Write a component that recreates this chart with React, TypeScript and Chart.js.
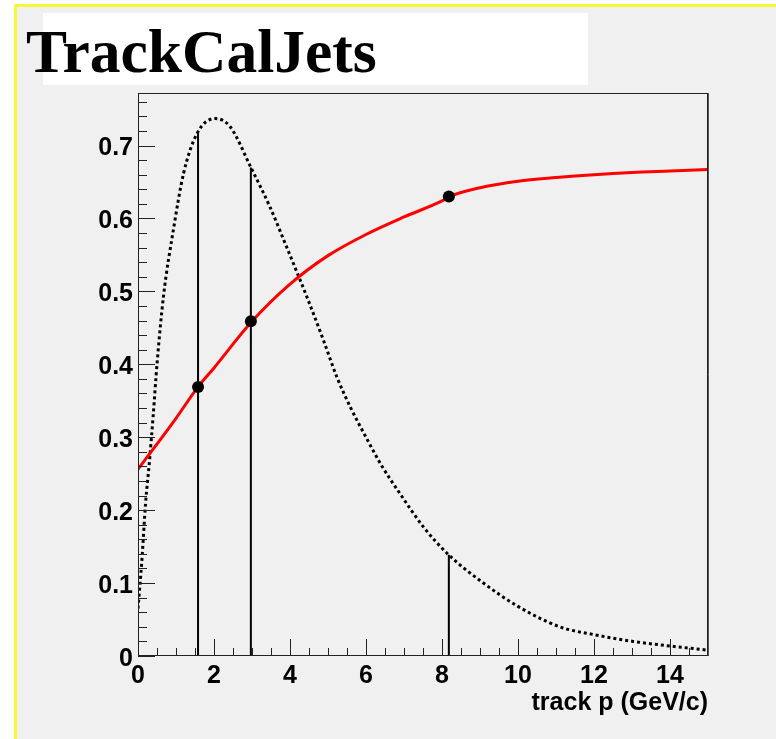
import React, { useEffect, useRef } from 'react';
import { Chart, registerables } from 'chart.js';
Chart.register(...registerables);

const TITLE = 'TrackCalJets';
const X_TITLE = 'track p (GeV/c)';

const xTickValues = [0, 2, 4, 6, 8, 10, 12, 14];
const xTickLabels = ['0', '2', '4', '6', '8', '10', '12', '14'];
const yTickValues = [0, 0.1, 0.2, 0.3, 0.4, 0.5, 0.6, 0.7];
const yTickLabels = ['0', '0.1', '0.2', '0.3', '0.4', '0.5', '0.6', '0.7'];

// red efficiency-like curve
const redX = [0, 1, 1.58, 2, 3, 4, 5, 6, 7, 8, 8.2, 9, 10, 11, 12, 13, 14, 15];
const redY = [0.256, 0.326, 0.369, 0.395, 0.459, 0.51, 0.549, 0.578, 0.602, 0.624, 0.63, 0.642, 0.651, 0.656, 0.66, 0.663, 0.665, 0.667];

// dotted distribution curve
const distX = [0, 0.1, 0.2, 0.3, 0.4, 0.5, 0.67, 0.93, 1.2, 1.56, 2.03, 2.42, 2.97, 3.47, 3.91, 4.44, 4.88, 5.23, 5.6, 6.0, 6.4, 6.89, 7.51, 8.17, 9.09, 10.0, 11.1, 12.03, 13.03, 14.0, 14.83, 15];
const distY = [0.065, 0.13, 0.21, 0.266, 0.33, 0.4, 0.493, 0.584, 0.662, 0.717, 0.737, 0.726, 0.67, 0.616, 0.561, 0.493, 0.433, 0.383, 0.34, 0.3, 0.262, 0.223, 0.177, 0.139, 0.1, 0.068, 0.04, 0.029, 0.02, 0.0137, 0.009, 0.008];

// markers
const markX = [1.58, 2.97, 8.18];
const markTop = [0.717, 0.67, 0.139];
const markY = [0.369, 0.459, 0.63];

const X_MIN = 0, X_MAX = 15, Y_MIN = 0, Y_MAX = 0.772;
const X_MINOR_STEP = 0.5, Y_MINOR_STEP = 0.02;

export default function App() {
  const ref = useRef<HTMLCanvasElement>(null);
  useEffect(() => {
    document.body.style.margin = '0';
    document.body.style.background = '#ffffff';
    const canvas = ref.current!;
    const tickFont = { family: '"Liberation Sans", Arial, sans-serif', size: 25, weight: 'bold' as const };

    const decor = {
      id: 'decor',
      beforeDraw(chart: any) {
        const { ctx, width, height } = chart;
        ctx.save();
        ctx.fillStyle = '#ffffff';
        ctx.fillRect(0, 0, width, height);
        ctx.fillStyle = '#f0f0f0';
        ctx.fillRect(14, 4, width - 14, height - 4);
        ctx.fillStyle = '#f8f838';
        ctx.fillRect(14, 4, width - 14, 3);
        ctx.fillRect(14, 4, 3, height - 4);
        ctx.fillStyle = '#ffffff';
        ctx.fillRect(43, 13, 545, 72);
        ctx.fillStyle = '#000000';
        ctx.font = 'bold 61.5px "Liberation Serif", "Times New Roman", serif';
        ctx.textBaseline = 'alphabetic';
        ctx.textAlign = 'left';
        ctx.fillText(TITLE, 26, 72);
        ctx.restore();
      },
      afterDraw(chart: any) {
        const { ctx, chartArea } = chart;
        const xs = chart.scales.x, ys = chart.scales.y;
        const { left, right, top, bottom } = chartArea;
        ctx.save();
        ctx.strokeStyle = '#222222';
        ctx.lineWidth = 1;
        ctx.beginPath();
        for (let v = X_MIN; v <= X_MAX + 1e-9; v += X_MINOR_STEP) {
          const major = Math.abs(v / 2 - Math.round(v / 2)) < 1e-6;
          const px = Math.round(xs.getPixelForValue(v)) + 0.5;
          ctx.moveTo(px, bottom);
          ctx.lineTo(px, bottom - (major ? 17 : 8));
        }
        for (let v = Y_MIN; v <= Y_MAX + 1e-9; v += Y_MINOR_STEP) {
          const major = Math.abs(v * 10 - Math.round(v * 10)) < 1e-6;
          const py = Math.round(ys.getPixelForValue(v)) + 0.5;
          ctx.moveTo(left, py);
          ctx.lineTo(left + (major ? 17 : 9), py);
        }
        ctx.stroke();
        ctx.strokeStyle = '#222222';
        ctx.lineWidth = 1;
        ctx.strokeRect(left + 0.5, top + 0.5, right - left - 1, bottom - top - 1);
        ctx.strokeStyle = '#555555';
        ctx.beginPath();
        ctx.moveTo(right + 0.5, top);
        ctx.lineTo(right + 0.5, bottom);
        ctx.stroke();
        ctx.restore();
      },
    };

    const vlineData: any[] = [];
    markX.forEach((x, i) => {
      vlineData.push({ x, y: 0 }, { x, y: markTop[i] }, { x, y: null });
    });

    const chart = new Chart(canvas, {
      type: 'line',
      data: {
        datasets: [
          {
            label: 'dist',
            data: distX.map((x, i) => ({ x, y: distY[i] })),
            borderColor: '#000000',
            borderWidth: 3,
            borderDash: [3, 3],
            pointRadius: 0,
            cubicInterpolationMode: 'monotone',
            fill: false,
            order: 4,
          },
          {
            label: 'vlines',
            data: vlineData,
            borderColor: '#000000',
            borderWidth: 2,
            pointRadius: 0,
            spanGaps: false,
            fill: false,
            order: 3,
          },
          {
            label: 'eff',
            data: redX.map((x, i) => ({ x, y: redY[i] })),
            borderColor: '#ff0000',
            borderWidth: 3,
            pointRadius: 0,
            cubicInterpolationMode: 'monotone',
            fill: false,
            order: 2,
          },
          {
            label: 'marks',
            data: markX.map((x, i) => ({ x, y: markY[i] })),
            showLine: false,
            pointRadius: 6,
            pointBackgroundColor: '#000000',
            pointBorderColor: '#000000',
            pointBorderWidth: 0,
            order: 1,
          },
        ] as any,
      },
      options: {
        animation: false,
        responsive: false,
        maintainAspectRatio: false,
        events: [],
        layout: { padding: { left: 0, top: 93, right: 68, bottom: 0 } },
        plugins: { legend: { display: false }, tooltip: { enabled: false }, title: { display: false } },
        scales: {
          x: {
            type: 'linear',
            min: X_MIN,
            max: X_MAX,
            grid: { display: false, drawTicks: false },
            border: { display: false },
            afterFit: (s: any) => { s.height = 83; },
            afterBuildTicks: (s: any) => { s.ticks = xTickValues.map((v) => ({ value: v })); },
            ticks: {
              font: tickFont,
              color: '#000000',
              padding: 5,
              maxRotation: 0,
              autoSkip: false,
              callback: (_v: any, i: number) => xTickLabels[i],
            },
            title: {
              display: true,
              text: X_TITLE,
              align: 'end',
              color: '#000000',
              font: { family: '"Liberation Sans", Arial, sans-serif', size: 25, weight: 'bold' },
              padding: { top: 0, bottom: 21 },
            },
          },
          y: {
            type: 'linear',
            min: Y_MIN,
            max: Y_MAX,
            grid: { display: false, drawTicks: false },
            border: { display: false },
            afterFit: (s: any) => { s.width = 138; },
            afterBuildTicks: (s: any) => { s.ticks = yTickValues.map((v) => ({ value: v })); },
            ticks: {
              font: tickFont,
              color: '#000000',
              padding: 5,
              autoSkip: false,
              labelOffset: 3,
              callback: (_v: any, i: number) => yTickLabels[i],
            },
          },
        },
      } as any,
      plugins: [decor],
    });
    return () => chart.destroy();
  }, []);
  return <canvas ref={ref} width={776} height={739} style={{ display: 'block', width: 776, height: 739 }} />;
}
